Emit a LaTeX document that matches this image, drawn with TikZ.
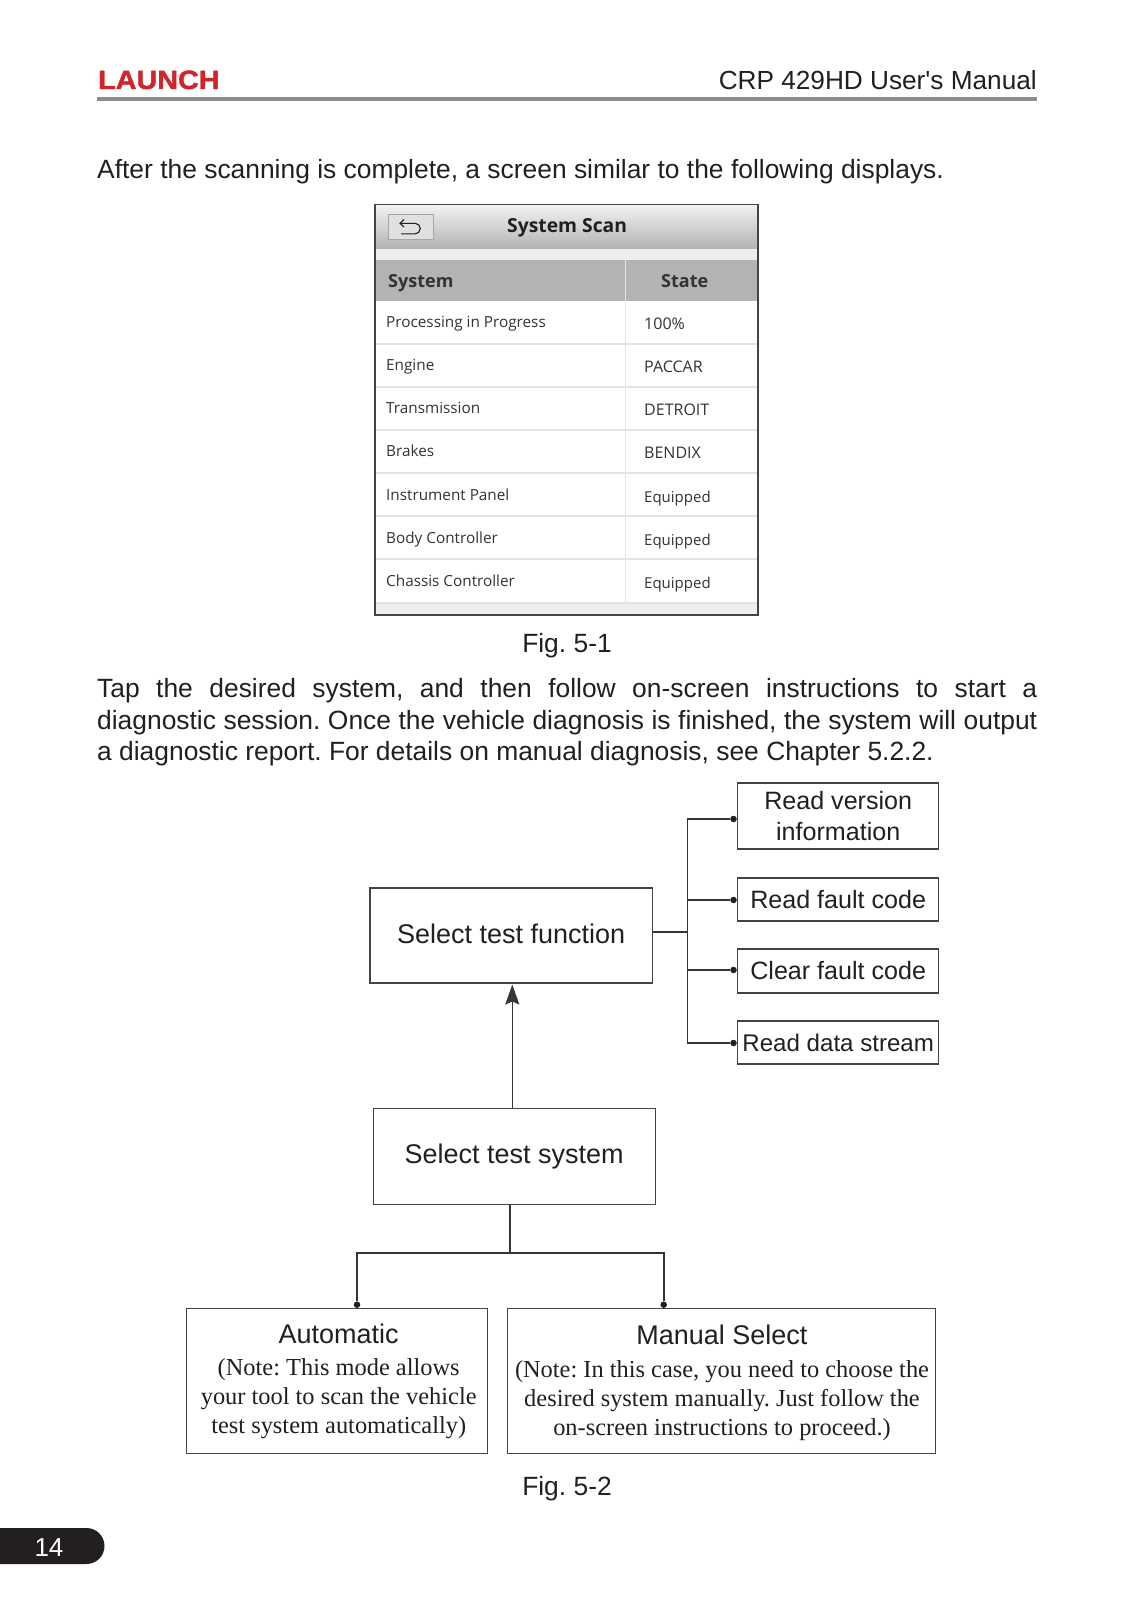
\documentclass[tikz,border=0pt]{standalone}
\usepackage{fontspec}
\usetikzlibrary{arrows.meta}
\setmainfont{Liberation Sans}
\newfontfamily\plainsans{Liberation Sans}
\newfontfamily\serifn{Liberation Serif}
\newfontfamily\uifont{Open Sans}
\newfontfamily\logofont[FakeStretch=1.085,FakeBold=1.4]{Liberation Sans Bold}
\definecolor{ink}{HTML}{231F20}
\definecolor{edge}{HTML}{444444}
\definecolor{logored}{HTML}{D2232A}
\definecolor{rulegray}{HTML}{8C8C8C}
\definecolor{headgray}{HTML}{B3B3B3}
\definecolor{pale}{HTML}{EEEEF2}
\definecolor{rowline}{HTML}{E4E4E4}
\definecolor{uitext}{HTML}{333333}
\AtBeginDocument{\frenchspacing}
\tikzset{
  x=1pt,y=-1pt,
  bodytext/.style={anchor=base west,inner sep=0pt,text=ink,font=\fontsize{26.4}{26.4}\selectfont},
  figtext/.style={anchor=base,inner sep=0pt,text=ink,font=\fontsize{26.4}{26.4}\selectfont},
  box/.style={draw=edge,line width=1.2pt,inner sep=0pt,align=center,text=ink,font=\fontsize{27}{31}\selectfont},
  smallbox/.style={box,font=\fontsize{25.1}{31}\selectfont},
  notetext/.style={anchor=base,inner sep=0pt,text=ink,font=\serifn\fontsize{24.4}{24.4}\selectfont},
  wire/.style={draw=ink!90,line width=1.6pt},
  dotn/.style={circle,fill=ink,inner sep=0pt,minimum size=6.5pt},
  rowtext/.style={anchor=base west,inner sep=0pt,text=uitext,font=\uifont\fontsize{15.3}{15.3}\selectfont},
  statetext/.style={anchor=base west,inner sep=0pt,text=uitext,font=\uifont\fontsize{16}{16}\selectfont},
  equiptext/.style={anchor=base west,inner sep=0pt,text=uitext,font=\uifont\fontsize{15}{15}\selectfont},
  headtext/.style={anchor=base west,inner sep=0pt,text=uitext,font=\uifont\fontsize{18}{18}\selectfont\bfseries},
}
\begin{document}
\begin{tikzpicture}
\useasboundingbox (0,0) rectangle (1126,1600);
\fill[white] (0,0) rectangle (1126,1600);
% page header
\node[anchor=base west,inner sep=0pt,text=logored,font=\logofont\fontsize{26.5}{26.5}\selectfont] (logo) at (98,89) {LAUNCH};
\node[anchor=base east,inner sep=0pt,text=ink,font=\plainsans\fontsize{26.2}{26.2}\selectfont] (title) at (1037,89.5) {CRP 429HD User's Manual};
\fill[rulegray] (96.7,97) rectangle (1037,101);
\node[bodytext] (p0) at (97,178) {After the scanning is complete, a screen similar to the following displays.};
% screenshot
\fill[white] (375,204.5) rectangle (758,615);
\shade[top color=white!95!black,bottom color=black!30] (375,204.5) rectangle (758,249);
\fill[pale] (375,249) rectangle (758,260);
\fill[headgray] (375,260) rectangle (758,301);
\fill[pale] (375,603) rectangle (758,615);
\foreach \y in {344,387,430,473,516,559,603} \draw[rowline,line width=1.2pt] (375,\y) -- (758,\y);
\draw[rowline,line width=1.2pt] (625.7,260) -- (625.7,603);
\draw[edge,line width=1.2pt] (375,204.5) rectangle (758,615);
\draw[black!35,fill=black!12,line width=0.8pt] (388,214) rectangle (433,239);
\draw[ink,line width=1.1pt] (404,219.5) -- (400,223.3) -- (404,227);
\draw[ink,line width=1.1pt] (400,223.3) -- (415,223.3) arc[start angle=-90,end angle=90,radius=5.3] -- (401,233.9);
\node[anchor=base west,inner sep=0pt,text=ink,font=\uifont\fontsize{19.3}{19.3}\selectfont\bfseries] (scan) at (507,232) {System Scan};
\node[headtext] (hs) at (388,287) {System};
\node[headtext] (hst) at (661,287) {State};
\node[rowtext] at (386,327) {Processing in Progress};
\node[rowtext] at (386,370.5) {Engine};
\node[rowtext] at (386,413.5) {Transmission};
\node[rowtext] at (386,456.5) {Brakes};
\node[rowtext] at (386,500) {Instrument Panel};
\node[rowtext] at (386,543) {Body Controller};
\node[rowtext] at (386,586) {Chassis Controller};
\node[statetext] at (644,329) {100\%};
\node[statetext] at (644,372.5) {PACCAR};
\node[statetext] at (644,415.5) {DETROIT};
\node[statetext] at (644,458.5) {BENDIX};
\node[equiptext] at (644,502) {Equipped};
\node[equiptext] at (644,545) {Equipped};
\node[equiptext] at (644,588.5) {Equipped};
\node[figtext] (f1) at (567,652) {Fig. 5-1};
% paragraph
\node[bodytext] (p1) at (97,697) {\makebox[940pt][s]{Tap the desired system, and then follow on-screen instructions to start a}};
\node[bodytext] (p2) at (97,729) {\makebox[940pt][s]{diagnostic session. Once the vehicle diagnosis is finished, the system will output}};
\node[bodytext] (p3) at (97,760) {a diagnostic report. For details on manual diagnosis, see Chapter 5.2.2.};
% flow boxes
\node[smallbox,minimum width=201pt,minimum height=66pt] (ver) at (838.2,816) {Read version\\information};
\node[smallbox,minimum width=201pt,minimum height=43pt] (rfc) at (838.2,899.5) {Read fault code};
\node[smallbox,minimum width=201pt,minimum height=44pt] (cfc) at (838.2,971) {Clear fault code};
\node[smallbox,minimum width=201pt,minimum height=43pt,font=\fontsize{24.1}{31}\selectfont] (rds) at (838.2,1042.5) {Read data stream};
\node[box,minimum width=282.5pt,minimum height=95pt] (func) at (511.2,935.5) {\raisebox{4pt}{Select test function}};
\node[box,minimum width=282pt,minimum height=96pt] (sys) at (514.2,1156.5) {Select test system};
\node[box,minimum width=301pt,minimum height=144.5pt] (auto) at (336.7,1381) {};
\node[box,minimum width=428pt,minimum height=144.5pt] (man) at (721.2,1381) {};
\node[anchor=base,inner sep=0pt,text=ink,font=\fontsize{27}{27}\selectfont] (au0) at (338.7,1343) {Automatic};
\node[notetext] (au1) at (338.7,1375.5) {(Note: This mode allows};
\node[notetext] (au2) at (338.7,1404.5) {your tool to scan the vehicle};
\node[notetext] (au3) at (338.7,1433.5) {test system automatically)};
\node[anchor=base,inner sep=0pt,text=ink,font=\fontsize{27}{27}\selectfont] (ma0) at (722,1344) {Manual Select};
\node[notetext] (ma1) at (722,1377) {(Note: In this case, you need to choose the};
\node[notetext] (ma2) at (722,1406) {desired system manually. Just follow the};
\node[notetext] (ma3) at (722,1435) {on-screen instructions to proceed.)};
\node[figtext] (f2) at (567,1495) {Fig. 5-2};
% connectors: function branch
\coordinate (bustop) at (687.5,819);
\coordinate (busbot) at (687.5,1043);
\node[dotn] (d1) at (733.5,819) {};
\node[dotn] (d2) at (733.5,900) {};
\node[dotn] (d3) at (733.5,970) {};
\node[dotn] (d4) at (733.5,1043) {};
\draw[wire] (d1) -- (bustop) -- (busbot) -- (d4);
\draw[wire] (bustop |- d2) -- (d2);
\draw[wire] (bustop |- d3) -- (d3);
\coordinate (funcport) at (652.4,932);
\draw[wire,line width=2.4pt] (funcport) -- (funcport -| bustop);
% arrow
\coordinate (arrowbase) at (512.3,1109);
\coordinate (arrowtip) at (512.3,984.5);
\draw[wire,-{Stealth[length=20pt,width=14pt,inset=3pt]}] (arrowbase) -- (arrowtip);
% connectors: system branch
\coordinate (stem) at (510.3,1205);
\coordinate (stemfoot) at (510.3,1252.7);
\node[dotn] (d5) at (357,1304.7) {};
\node[dotn] (d6) at (663.7,1304.7) {};
\draw[wire,line width=2pt] (stem) -- (stemfoot);
\draw[wire,line width=2pt] (d5) -- (d5 |- stemfoot) -- (d6 |- stemfoot) -- (d6);
% page number
\fill[ink] (0,1528) -- (86.5,1528) arc[start angle=-90,end angle=90,radius=18] -- (0,1564) -- cycle;
\node[anchor=base,inner sep=0pt,text=white,font=\fontsize{26}{26}\selectfont] (pg) at (49,1556) {14};
\end{tikzpicture}
\end{document}
